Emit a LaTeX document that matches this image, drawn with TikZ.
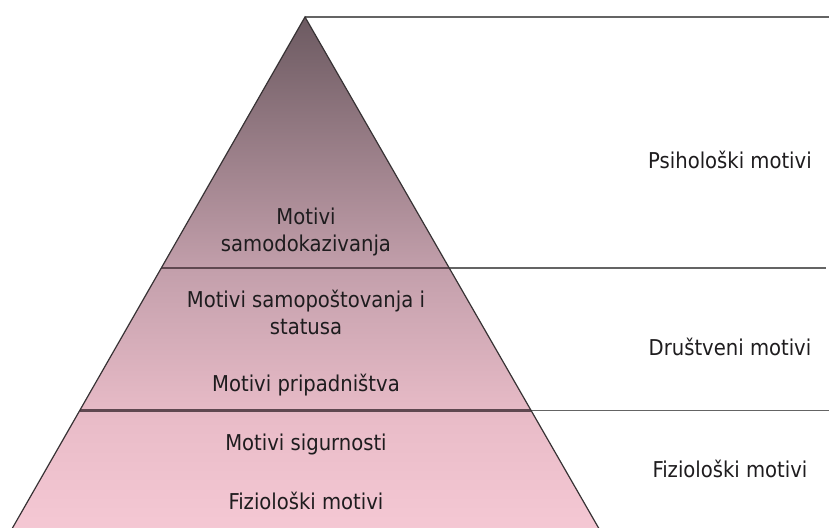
\documentclass[tikz,border=0pt]{standalone}
\usepackage{fontspec}
\setmainfont{DejaVu Sans Condensed}
\definecolor{shTop}{RGB}{108,90,97}
\definecolor{shMid}{RGB}{196,160,172}
\definecolor{shLow}{RGB}{233,188,200}
\definecolor{shBot}{RGB}{246,201,213}
\definecolor{edgeC}{RGB}{55,50,52}
\definecolor{lineOut}{RGB}{100,100,100}
\definecolor{lineIn}{RGB}{95,72,80}
\definecolor{txt}{RGB}{30,28,30}
\pgfdeclareverticalshading{pyrshade}{100bp}{color(0bp)=(shBot); color(25bp)=(shBot); color(36.5bp)=(shLow); color(50.5bp)=(shMid); color(75bp)=(shTop); color(100bp)=(shTop)}
\begin{document}
\begin{tikzpicture}[x=1pt,y=-1pt,
  lbl/.style={font=\fontsize{21.8}{27}\selectfont, text=txt, align=center, inner sep=0pt, anchor=base},
  sepout/.style={line width=1.8pt, draw=lineOut},
  sepin/.style={line width=2.2pt, draw=lineIn},
  edge/.style={line width=1.2pt, draw=edgeC}]
\useasboundingbox (0,0) rectangle (829,527);
\fill[white] (0,0) rectangle (829,527);
% geometry
\coordinate (apex) at (305,17);
\coordinate (bl) at (5.6,540);
\coordinate (br) at (605.5,540);
\coordinate (tr) at (829,17);
\coordinate (ml) at (161.3,268);
\coordinate (mr) at (449.2,268);
\coordinate (me) at (826,268);
\coordinate (ll) at (80,410.5);
\coordinate (lr) at (530.8,410.5);
\coordinate (le) at (829,410.5);
\begin{scope}
\clip (0,0) rectangle (829,527);
\shade[shading=pyrshade] (apex) -- (br) -- (bl) -- cycle;
\draw[sepout] (apex) -- (tr);
\draw[sepout] (mr) -- (me);
\draw[sepout] (lr) -- (le);
\draw[sepin] (ml) -- (mr);
\draw[sepin] (ll) -- (lr);
\draw[edge] (bl) -- (apex) -- (br);
\end{scope}
% labels
\node[lbl] (psi) at (730,168) {Psihološki motivi};
\node[lbl] (drus) at (730,355) {Društveni motivi};
\node[lbl] (fizr) at (730,477) {Fiziološki motivi};
\node[lbl] (samodok) at (306,251) {Motivi\\samodokazivanja};
\node[lbl] (samopost) at (306,334) {Motivi samopoštovanja i\\statusa};
\node[lbl] (pripad) at (306,391) {Motivi pripadništva};
\node[lbl] (sigur) at (306,450) {Motivi sigurnosti};
\node[lbl] (fizl) at (306,509) {Fiziološki motivi};
\end{tikzpicture}
\end{document}
